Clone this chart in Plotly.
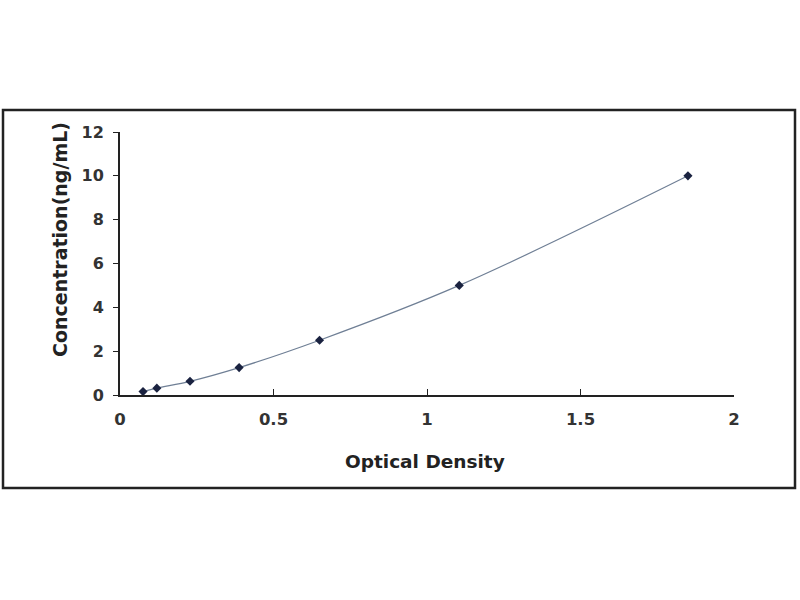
import plotly.graph_objects as go

od = [0.075, 0.12, 0.228, 0.388, 0.65, 1.105, 1.85]
conc = [0.156, 0.312, 0.625, 1.25, 2.5, 5, 10]
x_ticks = [0, 0.5, 1, 1.5, 2]
x_tick_labels = ["0", "0.5", "1", "1.5", "2"]
y_ticks = [0, 2, 4, 6, 8, 10, 12]
x_title = "Optical Density"
y_title = "Concentration(ng/mL)"

fig = go.Figure()
fig.add_trace(go.Scatter(
    x=od, y=conc, mode="lines+markers",
    line=dict(color="#6f7f95", width=1.2, shape="spline"),
    marker=dict(symbol="diamond", size=7, color="#1a2240"),
    cliponaxis=False, showlegend=False,
))

L, T = 120, 132
pw, ph = 614, 263
W, H = 800, 600
R = W - L - pw
B = H - T - ph
def px_x(p):
    return (p - L) / pw
def px_y(p):
    return (T + ph - p) / ph

fig.add_shape(type="rect", xref="paper", yref="paper",
              x0=px_x(3), x1=px_x(795), y0=px_y(488), y1=px_y(110),
              line=dict(color="#222", width=2.5), fillcolor="rgba(0,0,0,0)")

fam = "DejaVu Sans"
fig.add_annotation(text="<b>%s</b>" % x_title, xref="paper", yref="paper",
                   x=px_x(425), y=px_y(461), showarrow=False,
                   xanchor="center", yanchor="middle",
                   font=dict(family=fam, size=18.5, color="#222"))
fig.add_annotation(text="<b>%s</b>" % y_title, xref="paper", yref="paper",
                   x=px_x(60), y=px_y(240), showarrow=False, textangle=-90,
                   xanchor="center", yanchor="middle",
                   font=dict(family=fam, size=19, color="#222"))

fig.update_layout(
    width=W, height=H,
    margin=dict(l=L, r=R, t=T, b=B),
    paper_bgcolor="white", plot_bgcolor="white",
    xaxis=dict(
        range=[0, 2], tickvals=x_ticks, ticktext=x_tick_labels,
        showgrid=False, zeroline=False, showline=True, linecolor="#222", linewidth=2,
        ticks="inside", ticklen=6, tickcolor="#222", ticklabelstandoff=8,
        tickfont=dict(family=fam, size=16.5, color="#333", weight="bold"),
    ),
    yaxis=dict(
        range=[0, 12], tickvals=y_ticks,
        showgrid=False, zeroline=False, showline=True, linecolor="#222", linewidth=2,
        ticks="outside", ticklen=5, tickcolor="#222", ticklabelstandoff=6,
        tickfont=dict(family=fam, size=16, color="#333", weight="bold"),
    ),
)
fig.write_html("out.html", config={"displayModeBar": False},
               post_script="document.body.style.margin='0';")
